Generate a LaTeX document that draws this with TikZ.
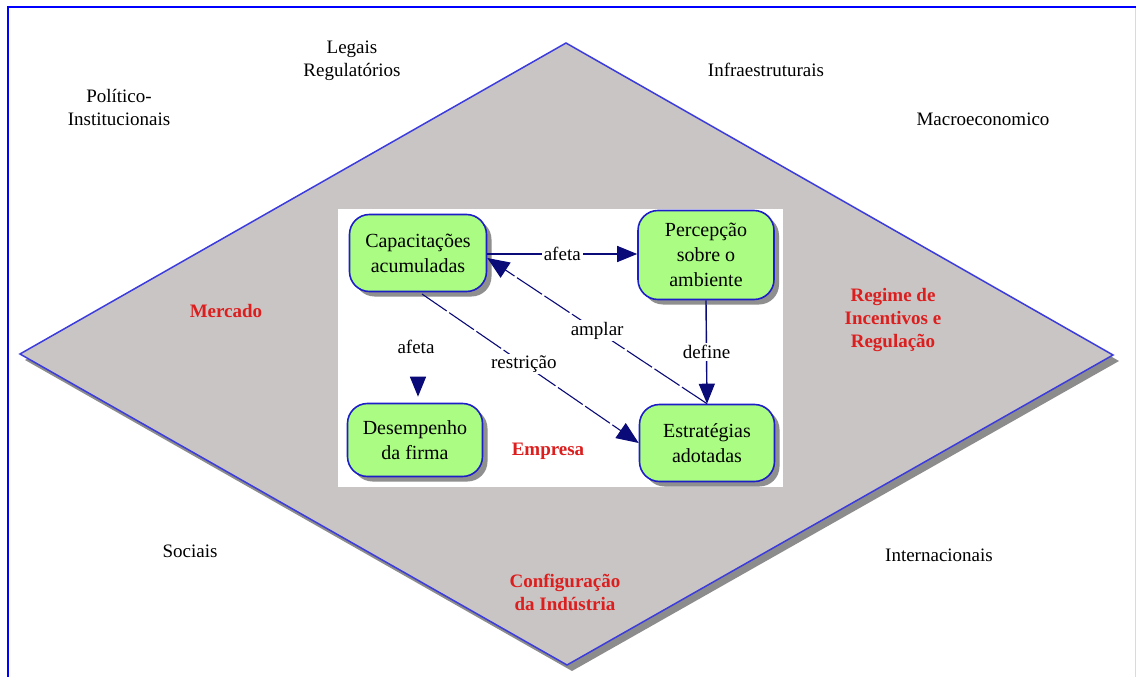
\documentclass[tikz,border=0pt]{standalone}
\usepackage{fontspec}
\setmainfont{Liberation Serif}
\usetikzlibrary{arrows.meta,shadows}
\definecolor{dgrey}{RGB}{201,197,197}
\definecolor{dblue}{RGB}{60,60,220}
\definecolor{navy}{RGB}{10,10,120}
\definecolor{boxgreen}{RGB}{170,252,130}
\definecolor{boxblue}{RGB}{30,30,200}
\definecolor{redlab}{RGB}{220,30,30}
\definecolor{paleframe}{RGB}{215,215,245}
\tikzset{
  x=1pt, y=-1pt,
  lab/.style={font=\fontsize{19}{23}\selectfont, align=center, text=black},
  redl/.style={font=\fontsize{19}{23}\selectfont\bfseries, align=center, text=redlab},
  box/.style={draw=boxblue, line width=1.6pt, fill=boxgreen, rounded corners=20pt,
    minimum width=137pt, align=center, font=\fontsize{20}{25}\selectfont, inner sep=2pt,
    drop shadow={shadow xshift=5pt, shadow yshift=-5pt, fill=black!55, opacity=0.8}},
  arr/.style={draw=navy, line width=1.4pt, -{Triangle[length=20pt,width=16pt]}},
  dsh/.style={draw=navy, line width=1.1pt, dash pattern=on 30pt off 3pt, -{Triangle[length=22pt,width=18pt]}},
  elab/.style={fill=white, inner sep=2pt, font=\fontsize{19}{22}\selectfont}
}
\begin{document}
\begin{tikzpicture}
\useasboundingbox (0,0) rectangle (1136,677);
\fill[white] (0,0) rectangle (1136,677);
% frame
\draw[paleframe, line width=1pt] (1135,7) -- (1135,677);
\draw[blue, line width=2.2pt] (8,677) -- (8,7) -- (1136,7);
% diamond shadow
\fill[black!45] (25,360) -- (571,49) -- (1119,361) -- (572,671) -- cycle;
\fill[dgrey, draw=dblue, line width=1.5pt] (20,354) -- (566,43) -- (1113,355) -- (567,665) -- cycle;
% inner white box
\fill[white] (338,209) rectangle (783,487);
% outer labels
\node[lab] (pol) at (119,107) {Político-\\Institucionais};
\node[lab] (leg) at (352,61) {Legais\\Regulatórios};
\node[lab] (inf) at (766,70) {Infraestruturais};
\node[lab] (mac) at (983,119) {Macroeconomico};
\node[lab] (soc) at (190,551) {Sociais};
\node[lab] (int) at (939,555) {Internacionais};
\node[redl] (mer) at (226,311) {Mercado};
\node[redl] (reg) at (893,320) {Regime de\\Incentivos e\\Regulação};
\node[redl] (conf) at (565,592) {Configuração\\da Indústria};
\node[redl] (emp) at (548,451) {Empresa};
% boxes
\node[box, minimum height=77pt] (cap) at (418,253) {Capacitações\\acumuladas};
\node[box, minimum height=89pt, minimum width=136pt] (per) at (706,255) {Percepção\\sobre o\\ambiente};
\node[box, minimum height=73pt, minimum width=135pt] (des) at (415,440) {Desempenho\\da firma};
\node[box, minimum height=77pt, minimum width=135pt] (est) at (707,443) {Estratégias\\adotadas};
% connectors
\draw[arr] (cap.east |- 0,254) -- node[elab] {afeta} (per.west |- 0,254);
\draw[arr] (per.south) -- node[elab] {define} (est.north);
\draw[dsh] (est.north) -- node[elab, pos=0.5] {amplar} (cap.east |- 0,258);
\coordinate (capb) at (422,294);
\draw[dsh] (capb) -- node[elab, pos=0.47] {restrição} (est.west);
\node[font=\fontsize{19}{22}\selectfont] (afl) at (416,347) {afeta};
\coordinate (ta) at (418,378);
\draw[arr, shorten >=6pt] (ta) -- (des.north -| ta);
\end{tikzpicture}
\end{document}
